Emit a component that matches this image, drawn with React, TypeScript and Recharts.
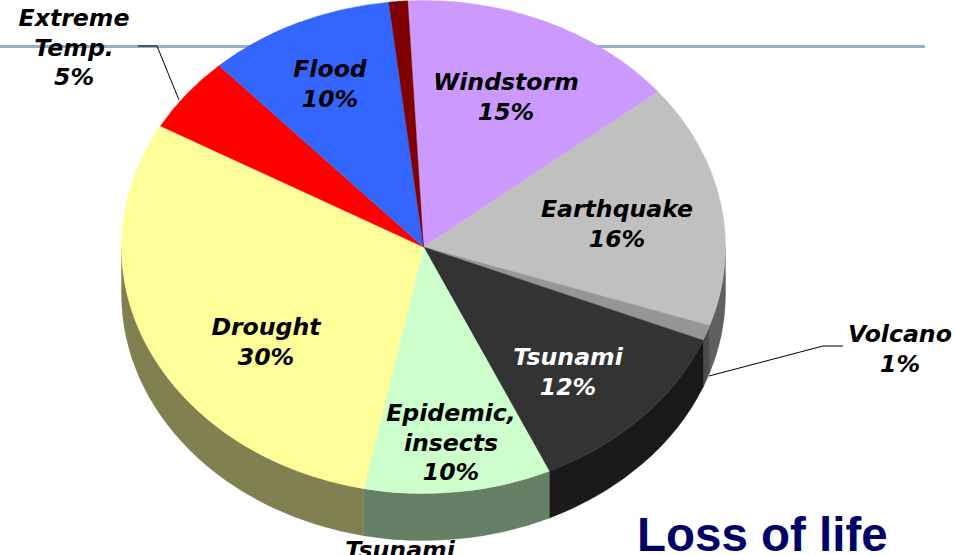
import React from 'react';
import { PieChart, Pie, Cell } from 'recharts';

const categories = ['Windstorm', 'Earthquake', 'Volcano', 'Tsunami', 'Epidemic', 'Drought', 'Extreme Temp.', 'Flood', 'Wave'];
const lossShare = [15, 16, 1, 12, 10, 30, 5, 10, 1];
const sliceColors = ['#cc99ff', '#c0c0c0', '#969696', '#333333', '#ccffcc', '#ffff99', '#ff0000', '#3366ff', '#800000'];
const wallColors = ['#664d80', '#606060', '#4b4b4b', '#1a1a1a', '#668066', '#808050', '#800000', '#1a3380', '#400000'];

const chartData = categories.map((name, i) => ({ name, value: lossShare[i] }));

// the disc is squashed into an ellipse, this is the height / width ratio
const TILT = 246.5 / 302;
const DEPTH = 47;

const FONT = '"DejaVu Sans", Verdana, sans-serif';

// where each caption sits: centre x, first baseline, lines
const captions: { x: number; y: number; lines: string[]; color?: string; lead?: number[][] }[] = [
    { x: 506, y: 90, lines: ['Windstorm', '15%'] },
    { x: 617, y: 217, lines: ['Earthquake', '16%'] },
    { x: 900, y: 342, lines: ['Volcano', '1%'], lead: [[843, 346], [823, 346], [709, 376]] },
    { x: 568, y: 365, lines: ['Tsunami', '12%'], color: '#ffffff' },
    { x: 451, y: 421, lines: ['Epidemic,', 'insects', '10%'] },
    { x: 266, y: 335, lines: ['Drought', '30%'] },
    { x: 74, y: 26, lines: ['Extreme', 'Temp.', '5%'], lead: [[138, 46], [157, 46], [179, 100]] },
    { x: 330, y: 77, lines: ['Flood', '10%'] },
    { x: 400, y: 558, lines: ['Tsunami'] },
];

function ellipsePoint(cx: number, cy: number, r: number, t: number) {
    const rad = (t * Math.PI) / 180;
    return [cx + r * Math.cos(rad), cy + r * TILT * Math.sin(rad)];
}

// top face of a slice, recharts gives us the angles
function TopSlice(props: any) {
    const { cx, cy, outerRadius: r, startAngle, endAngle, fill } = props;
    const t0 = -startAngle;
    const t1 = -endAngle;
    const [x0, y0] = ellipsePoint(cx, cy, r, t0);
    const [x1, y1] = ellipsePoint(cx, cy, r, t1);
    const large = t1 - t0 > 180 ? 1 : 0;
    const d = `M${cx},${cy} L${x0},${y0} A${r},${r * TILT} 0 ${large} 1 ${x1},${y1} Z`;
    return <path d={d} fill={fill} stroke={fill} strokeWidth={0.4} />;
}

// side wall, only the part on the front half of the disc can be seen
function WallSlice(props: any) {
    const { cx, cy, outerRadius: r, startAngle, endAngle, fill } = props;
    const t0 = Math.max(-startAngle, 0);
    const t1 = Math.min(-endAngle, 180);
    if (t1 <= t0) return <g />;
    const [x0, y0] = ellipsePoint(cx, cy, r, t0);
    const [x1, y1] = ellipsePoint(cx, cy, r, t1);
    const ry = r * TILT;
    const d = `M${x0},${y0} A${r},${ry} 0 0 1 ${x1},${y1} L${x1},${y1 + DEPTH} A${r},${ry} 0 0 0 ${x0},${y0 + DEPTH} Z`;
    return <path d={d} fill={fill} stroke={fill} strokeWidth={0.4} />;
}

function renderCaption(props: any) {
    const c = captions[props.index];
    return (
        <g>
            {c.lead && (
                <polyline points={c.lead.map((p) => p.join(',')).join(' ')} fill="none" stroke="#000000" strokeWidth={1} />
            )}
            {c.lines.map((line, i) => (
                <text
                    key={line}
                    x={c.x}
                    y={c.y + i * 29.5}
                    textAnchor="middle"
                    fontFamily={FONT}
                    fontSize={23.6}
                    fontWeight="bold"
                    fontStyle="italic"
                    fill={c.color || '#000000'}
                >
                    {line}
                </text>
            ))}
        </g>
    );
}

export default function App() {
    return (
        <div style={{ position: 'absolute', left: 0, top: 0, width: 954, height: 555, overflow: 'hidden', background: '#ffffff' }}>
            <div style={{ position: 'absolute', left: 0, top: 45, width: 925, height: 3, background: '#9aaec8' }} />
            <div style={{ position: 'absolute', left: 0, top: 0 }}>
                <PieChart width={954} height={555} margin={{ top: 0, right: 0, bottom: 0, left: 0 }}>
                    <Pie
                        data={chartData}
                        dataKey="value"
                        cx={423.5}
                        cy={247}
                        outerRadius={302}
                        startAngle={93}
                        endAngle={-267}
                        shape={WallSlice}
                        isAnimationActive={false}
                    >
                        {chartData.map((d, i) => (
                            <Cell key={d.name} fill={wallColors[i]} />
                        ))}
                    </Pie>
                    <Pie
                        data={chartData}
                        dataKey="value"
                        cx={423.5}
                        cy={247}
                        outerRadius={302}
                        startAngle={93}
                        endAngle={-267}
                        shape={TopSlice}
                        label={renderCaption}
                        labelLine={false}
                        isAnimationActive={false}
                    >
                        {chartData.map((d, i) => (
                            <Cell key={d.name} fill={sliceColors[i]} />
                        ))}
                    </Pie>
                </PieChart>
            </div>
            <div
                style={{
                    position: 'absolute',
                    left: 637,
                    top: 509,
                    fontFamily: '"Liberation Sans", Arial, sans-serif',
                    fontWeight: 'bold',
                    fontSize: 47.5,
                    lineHeight: '52px',
                    color: '#000066',
                    whiteSpace: 'nowrap',
                }}
            >
                Loss of life
            </div>
        </div>
    );
}
